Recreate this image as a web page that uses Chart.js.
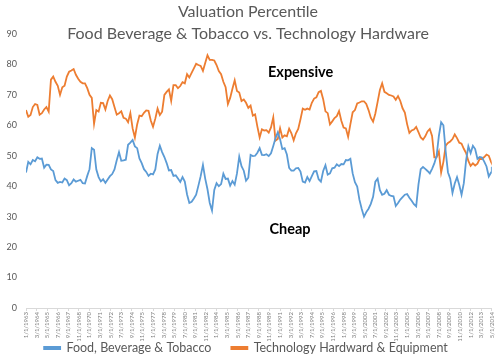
<!DOCTYPE html>
<html><head><meta charset="utf-8">
<script src="https://cdn.jsdelivr.net/npm/chart.js@4.4.1/dist/chart.umd.min.js"></script>
<style>html,body{margin:0;padding:0;background:#fff}#wrap{width:500px;height:361px;position:relative}</style>
</head><body><div id="wrap"><canvas id="c" width="500" height="361"></canvas></div>
<script>
const titleLines = ['Valuation Percentile', 'Food Beverage & Tobacco vs. Technology Hardware'];
const seriesNames = ['Food, Beverage & Tobacco', 'Technology Hardward & Equipment'];
const startYear = 1963;
const lastMonth = 616;      // 5/1/2014, months counted from 1/1/1963
const labelStep = 14;       // one axis label every 14 months
const sampleStep = 3;       // values read quarterly
const yTicks = [0, 10, 20, 30, 40, 50, 60, 70, 80, 90];
const notes = [
  { text: 'Expensive', month: 320, value: 77.5 },
  { text: 'Cheap', month: 322, value: 26 }
];
const food = [
  44.5, 48, 47.2, 48.6, 48.2, 49.5, 49, 49.1, 46.1, 47.1,
  47, 45.5, 45, 42, 41.1, 41.4, 41.2, 42.5, 42, 40.3,
  41, 42.2, 41.5, 41.8, 42.1, 41, 40.9, 43.4, 45.6, 52.5,
  52, 45.5, 43, 41.6, 42.3, 41.1, 42.2, 43.3, 44, 45.5,
  48.5, 51.2, 48.4, 48.5, 48.7, 53.6, 54.3, 55.2, 53.1, 52.5,
  49.1, 47.6, 45.6, 44.7, 43.4, 44.1, 43.9, 45.5, 50.6, 53.3,
  51.2, 49.6, 47.6, 45.2, 45.3, 43.4, 43.6, 42.5, 41.4, 43,
  41.5, 37.3, 34.5, 34.9, 36, 37.2, 40.2, 43.3, 47, 42.5,
  39, 34.5, 32, 38.8, 41, 40, 40.7, 44.1, 42.4, 42.5,
  40.2, 41.7, 40.5, 44.2, 49.7, 46.6, 45.1, 41.8, 42.8, 50.3,
  49.9, 50, 51, 52.5, 50.3, 50.2, 50.5, 49.9, 50.8, 53.2,
  55.8, 57.7, 55.4, 52.2, 52.5, 50.4, 46, 45.1, 45.1, 45.9,
  46, 44.8, 41.5, 41.2, 43, 41.7, 43.3, 44.9, 45, 42.3,
  41.5, 45, 46.9, 43.8, 44.2, 45.9, 46.1, 47.2, 46.6, 47.3,
  47.2, 48.6, 48.5, 49, 44.2, 41.3, 39.9, 35.5, 32.5, 30,
  31.5, 32.6, 34.2, 36.5, 41.5, 42.5, 38.7, 37.2, 37.5, 38.7,
  37.2, 36.8, 36.7, 33.5, 34.5, 35.6, 36.4, 37.2, 37.4, 36.2,
  35.2, 34.1, 33.4, 40.5, 45.6, 46.3, 45.7, 45, 44.2, 45.7,
  47.5, 50, 56.5, 61, 60, 51.5, 44.6, 42.5, 37.8, 40.9,
  43, 40.4, 37.2, 41, 48.5, 53.1, 50.9, 53.3, 52.2, 49,
  49.6, 49.4, 48.1, 46.5, 43.2, 44.5, 46.4
];
const tech = [
  65, 62.8, 63.4, 66, 67, 66.7, 63.5, 64, 65.2, 66,
  64.5, 75, 76, 74.3, 73, 70, 72.5, 73, 76, 77.6,
  78, 78.5, 76.6, 75.3, 74.3, 73.8, 73.8, 72.2, 70, 69,
  60.5, 65, 64.5, 67.4, 67.3, 65.2, 68, 69.8, 68.6, 66,
  63.5, 64, 64.6, 62.5, 62.2, 61, 64, 59, 56, 60.3,
  63.2, 63, 64.1, 64.9, 64.8, 61.6, 59.5, 62.2, 65.5, 63.4,
  64.5, 70, 71, 71.8, 68, 73.2, 73.2, 72.2, 72.9, 74.2,
  73.8, 76.8, 75.7, 77.2, 78.7, 80.2, 79.8, 79.5, 77.9, 80.5,
  83, 81.5, 81.5, 81.3, 79.8, 77.8, 76.8, 74.3, 72.5, 67,
  69, 72, 74.8, 71.3, 70.8, 68, 68.5, 67.4, 65.7, 66.5,
  63.2, 63.6, 59.6, 56, 58.7, 58.3, 58.4, 57.6, 59.3, 62.6,
  55, 55.5, 59, 56, 56.7, 56.4, 58.9, 57.4, 55.1, 57.4,
  58.8, 62, 65.5, 65.1, 65.5, 65.2, 67.4, 68.8, 69.2, 70.9,
  71.3, 68.6, 64.6, 64, 60.3, 61.3, 62.4, 63, 64.7, 61.5,
  59.3, 59, 56.2, 60.4, 64.3, 65, 67.2, 67.5, 67.9, 67.9,
  67, 65, 62.5, 61.2, 63.9, 67.7, 71.6, 73.8, 71, 70.5,
  70, 69.8, 69.5, 68.4, 69.6, 68, 65.6, 64.2, 60.4, 57.5,
  58.3, 58.6, 59.5, 57.8, 56, 55.3, 56.4, 58, 58.8, 56.5,
  49.5, 49.5, 51.4, 44.5, 48, 53.3, 54.2, 54.7, 55.5, 57,
  55.8, 54.3, 54, 52.3, 50.9, 48.3, 46.7, 47.5, 46.8, 47.4,
  49, 48.9, 49.6, 50.4, 50, 48, 47.5
];

function monthLabel(m) {
  return ((m % 12) + 1) + '/1/' + (startYear + Math.floor(m / 12));
}
const labelMonths = [];
for (let m = 0; m <= lastMonth; m += labelStep) labelMonths.push(m);
const toPoints = arr => arr.map((v, i) => ({ x: Math.min(i * sampleStep, lastMonth), y: v }));

const FONT = 'Lato, "Open Sans", sans-serif';
const textColor = '#595959';
const legendFont = 12.5, legendPad = 20, legendCenterY = 348;

const overlay = {
  id: 'overlay',
  beforeDraw(chart) {
    // legend box is kept short for layout; place its row at the wanted height
    if (chart.legend) chart.legend.top = legendCenterY - legendPad - legendFont / 2;
  },
  afterDraw(chart) {
    const ctx = chart.ctx;
    ctx.save();
    ctx.fillStyle = textColor;
    ctx.textAlign = 'center';
    ctx.textBaseline = 'middle';
    ctx.font = '16px ' + FONT;
    ctx.fillText(titleLines[0], 248, 12);
    ctx.fillText(titleLines[1], 248, 34);
    ctx.fillStyle = '#000';
    ctx.textAlign = 'left';
    ctx.font = 'bold 14.5px ' + FONT;
    const xs = chart.scales.x, ys = chart.scales.y;
    notes.forEach(n => ctx.fillText(n.text, xs.getPixelForValue(n.month), ys.getPixelForValue(n.value)));
    ctx.restore();
  }
};

new Chart(document.getElementById('c'), {
  type: 'line',
  data: {
    datasets: [
      { label: seriesNames[0], data: toPoints(food), borderColor: '#5B9BD5', backgroundColor: '#5B9BD5',
        borderWidth: 1.8, pointRadius: 0, tension: 0 },
      { label: seriesNames[1], data: toPoints(tech), borderColor: '#ED7D31', backgroundColor: '#ED7D31',
        borderWidth: 1.8, pointRadius: 0, tension: 0 }
    ]
  },
  options: {
    responsive: false,
    animation: false,
    devicePixelRatio: 1,
    layout: { padding: { top: 34, right: 8, left: 0, bottom: 0 } },
    plugins: {
      title: { display: false },
      tooltip: { enabled: false },
      legend: {
        position: 'bottom',
        maxHeight: 20,
        labels: { boxWidth: 16, boxHeight: 2, color: textColor, padding: legendPad,
          font: { size: legendFont, family: FONT } }
      }
    },
    scales: {
      x: {
        type: 'linear', min: 0, max: lastMonth,
        afterBuildTicks: s => { s.ticks = labelMonths.map(v => ({ value: v })); },
        afterFit: s => { s.height = 33; },
        ticks: { autoSkip: false, maxRotation: 90, minRotation: 90, color: '#808080', padding: 1,
          font: { size: 6, family: FONT }, callback: v => monthLabel(v) },
        grid: { display: true, drawOnChartArea: false, color: '#d9d9d9', tickLength: 3 },
        border: { color: '#d9d9d9' }
      },
      y: {
        min: 0, max: 90,
        afterBuildTicks: s => { s.ticks = yTicks.map(v => ({ value: v })); },
        afterFit: s => { s.width = 26; },
        ticks: { color: textColor, padding: 1, font: { size: 9, family: FONT } },
        grid: { display: false },
        border: { display: false }
      }
    }
  },
  plugins: [overlay]
});
</script></body></html>
